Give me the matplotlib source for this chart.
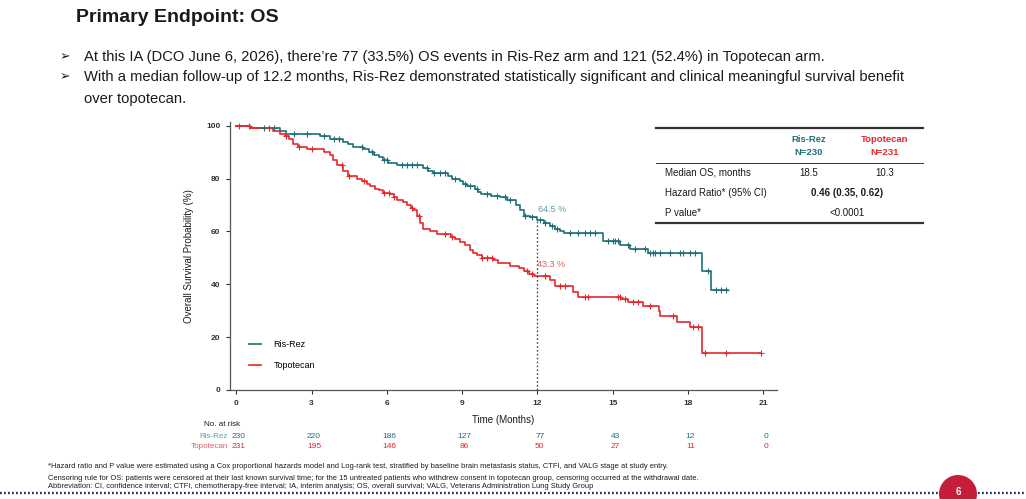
import numpy as np
import matplotlib
matplotlib.use("Agg")
import matplotlib.pyplot as plt
import matplotlib.transforms as mtransforms
from matplotlib.patches import Ellipse

plt.rcParams['font.family'] = ['Liberation Sans', 'DejaVu Sans']

# Kaplan-Meier step data (time in months, survival %)
risrez_t = [0, 0.55, 1.75, 2.0, 3.35, 3.75, 4.27, 4.45, 4.65, 5.05, 5.3, 5.5, 5.7, 5.85,
            6.05, 6.4, 7.45, 7.65, 7.85, 8.45, 8.6, 8.9, 9.05, 9.2, 9.5, 9.65, 9.75, 10.15,
            10.5, 10.8, 11.15, 11.3, 11.45, 11.7, 12.0, 12.25, 12.5, 12.7, 12.9, 13.05,
            14.6, 15.3, 15.7, 16.4, 18.55, 18.9, 19.6]
risrez_s = [100, 99, 98, 97, 96, 95, 94, 93, 92, 91, 90, 89, 88, 87,
            86, 85.2, 84, 83, 82, 81, 80, 79, 78, 77, 76, 75, 74, 73.5,
            73, 72, 70, 68, 66, 65.5, 64.5, 63, 62, 61, 60, 59.3,
            56.3, 55, 53.2, 51.7, 45, 37.8, 37.8]
risrez_cens = [1.1, 1.5, 2.3, 2.8, 3.5, 3.9, 4.1, 5.0, 5.4, 5.9, 6.0, 6.6, 6.8, 7.0, 7.2,
               7.6, 7.9, 8.1, 8.3, 8.7, 9.1, 9.3, 9.6, 10.0, 10.4, 10.7, 10.9, 11.5, 11.8,
               12.1, 12.3, 12.6, 12.8, 13.3, 13.6, 13.9, 14.1, 14.3, 14.8, 15.0, 15.1, 15.2,
               15.6, 15.9, 16.3, 16.5, 16.6, 16.7, 16.9, 17.3, 17.7, 17.8, 18.1, 18.3,
               18.8, 19.1, 19.3, 19.5]

topo_t = [0, 0.55, 1.45, 1.75, 1.95, 2.1, 2.27, 2.47, 2.8, 3.5, 3.73, 3.85, 4.0, 4.27,
          4.47, 4.8, 5.0, 5.2, 5.33, 5.53, 5.7, 5.86, 6.13, 6.3, 6.4, 6.66, 6.8, 6.95,
          7.05, 7.2, 7.33, 7.46, 7.72, 7.99, 8.55, 8.72, 8.92, 9.1, 9.3, 9.45, 9.58,
          9.78, 10.25, 10.45, 10.9, 11.25, 11.45, 11.65, 11.85, 12.5, 12.7, 13.4, 13.6,
          15.35, 15.6, 16.2, 16.83, 16.9, 17.56, 18.1, 18.55, 20.9]
topo_s = [100, 99, 98, 97, 96, 95, 93, 92, 91, 90, 89, 87, 85, 83,
          81, 80, 79, 78, 77, 76, 75.5, 74.5, 74, 73, 72, 71, 70, 69,
          68, 66, 63, 61, 60, 59, 58, 57, 56, 55, 53, 52, 51,
          50, 49, 48, 47, 46, 45, 44, 43.3, 41.6, 39.3, 37.2, 35.3,
          34.3, 33.4, 31.8, 29.9, 28, 25.8, 24, 13.9, 13.9]
topo_cens = [0.1, 0.5, 1.3, 2.0, 2.5, 3.0, 4.2, 4.5, 5.1, 5.9, 6.1, 6.3, 7.0, 7.3, 8.3,
             8.6, 9.8, 10.0, 10.2, 11.6, 11.8, 12.3, 12.9, 13.1, 13.9, 14.0, 15.2, 15.3,
             15.5, 15.8, 16.0, 16.5, 17.4, 18.2, 18.4, 18.7, 19.5, 20.9]

arms = ['Ris-Rez', 'Topotecan']
arm_n = ['N=230', 'N=231']
median_os = ['18.5', '10.3']
hr_text = '0.46 (0.35, 0.62)'
p_text = '<0.0001'
landmark = 12
landmark_vals = [64.5, 43.3]

risk_times = [0, 3, 6, 9, 12, 15, 18, 21]
risk_risrez = [230, 220, 186, 127, 77, 43, 12, 0]
risk_topo = [231, 195, 146, 86, 50, 27, 11, 0]

TEAL = '#1E6F78'
RED = '#E8272C'
TEAL_L = '#5D9EA6'
RED_L = '#E8595D'
DARK = '#1A1A1A'

W, H = 1026, 499
fig = plt.figure(figsize=(W / 100, H / 100), dpi=100)


def fx(x):
    return x / W


def fy(y):
    return 1 - y / H


def surv_at(t_arr, s_arr, t):
    idx = np.searchsorted(t_arr, t, side='right') - 1
    return np.asarray(s_arr)[idx]


# Header text
fig.text(fx(76), fy(18), 'Primary Endpoint: OS', fontsize=14, fontweight='bold',
         color=DARK, va='center', ha='left')
bullets = [
    (57, 'At this IA (DCO June 6, 2026), there\u2019re 77 (33.5%) OS events in Ris-Rez arm and 121 (52.4%) in Topotecan arm.'),
    (77, 'With a median follow-up of 12.2 months, Ris-Rez demonstrated statistically significant and clinical meaningful survival benefit'),
]
for yy, txt in bullets:
    fig.text(fx(60), fy(yy), '\u27a2', fontsize=9, color=DARK, va='center', ha='left',
             family=['DejaVu Sans'])
    fig.text(fx(84), fy(yy), txt, fontsize=10.6, color=DARK, va='center', ha='left')
fig.text(fx(84), fy(99), 'over topotecan.', fontsize=10.6, color=DARK, va='center', ha='left')

# KM plot
ax = fig.add_axes([fx(230), fy(390), fx(777) - fx(230), fy(121.7) - fy(390)])
ax.step(risrez_t, risrez_s, where='post', color=TEAL, lw=1.2, label=arms[0])
ax.step(topo_t, topo_s, where='post', color=RED, lw=1.2, label=arms[1])
ax.plot(risrez_cens, surv_at(risrez_t, risrez_s, risrez_cens), '+', color=TEAL, ms=4, mew=0.8)
ax.plot(topo_cens, surv_at(topo_t, topo_s, topo_cens), '+', color=RED, ms=4, mew=0.8)
ax.vlines(landmark, 0, landmark_vals[0], colors='#444444', linestyles=(0, (1.2, 1.6)), lw=1.0)
ax.text(landmark + 0.03, landmark_vals[0] + 3.9, f'{landmark_vals[0]} %', color=TEAL_L,
        fontsize=6.5, va='center', ha='left')
ax.text(landmark - 0.02, landmark_vals[1] + 4.0, f'{landmark_vals[1]} %', color=RED_L,
        fontsize=6.5, va='center', ha='left')

ax.set_xlim(-0.25, 21.55)
ax.set_ylim(0, 101.5)
ax.set_xticks(risk_times)
ax.set_yticks([0, 20, 40, 60, 80, 100])
ax.tick_params(labelsize=6, colors='#333333', length=3, width=0.8, pad=4)
for lab in ax.get_xticklabels() + ax.get_yticklabels():
    lab.set_fontweight('bold')
for sp in ['top', 'right']:
    ax.spines[sp].set_visible(False)
for sp in ['left', 'bottom']:
    ax.spines[sp].set_color('#555555')
    ax.spines[sp].set_linewidth(0.9)
ax.set_xlabel('Time (Months)', fontsize=7, color=DARK, labelpad=6)
ax.set_ylabel('Overall Survival Probability (%)', fontsize=7, color=DARK, labelpad=9)
ax.legend(loc='lower left', bbox_to_anchor=(0.02, 0.045), frameon=False, fontsize=6.5,
          handlelength=1.3, labelspacing=1.3, handletextpad=1.4)

# Number at risk
trans = mtransforms.blended_transform_factory(ax.transData, fig.transFigure)
fig.text(fx(204), fy(425), 'No. at risk', fontsize=5.8, color=DARK, va='center', ha='left')
fig.text(fx(228), fy(437), arms[0], fontsize=5.8, color=TEAL_L, va='center', ha='right')
fig.text(fx(228), fy(446), arms[1], fontsize=5.8, color=RED_L, va='center', ha='right')
for t, a, b in zip(risk_times, risk_risrez, risk_topo):
    ax.text(t + 0.1, fy(437), str(a), transform=trans, fontsize=6, color=TEAL,
            va='center', ha='center', clip_on=False)
    ax.text(t + 0.1, fy(446), str(b), transform=trans, fontsize=6, color=RED,
            va='center', ha='center', clip_on=False)

# Summary table
tl, tr = fx(656), fx(923)
fig.add_artist(plt.Line2D([tl, tr], [fy(128.3), fy(128.3)], color='#333333', lw=1.6))
fig.add_artist(plt.Line2D([tl, tr], [fy(162.7), fy(162.7)], color='#333333', lw=0.7))
fig.add_artist(plt.Line2D([tl, tr], [fy(223.3), fy(223.3)], color='#333333', lw=1.6))
col_x = [fx(809), fx(885)]
col_c = [TEAL, RED]
for cx, name, n, col, med in zip(col_x, arms, arm_n, col_c, median_os):
    fig.text(cx, fy(139), name, fontsize=6.8, fontweight='bold', color=col, ha='center', va='center')
    fig.text(cx, fy(152), n, fontsize=6.8, fontweight='bold', color=col, ha='center', va='center')
    fig.text(cx, fy(172.5), med, fontsize=7, color=DARK, ha='center', va='center')
fig.text(fx(665), fy(172.5), 'Median OS, months', fontsize=7, color=DARK, ha='left', va='center')
fig.text(fx(665), fy(192.7), 'Hazard Ratio* (95% CI)', fontsize=7, color=DARK, ha='left', va='center')
fig.text(fx(665), fy(212.7), 'P value*', fontsize=7, color=DARK, ha='left', va='center')
fig.text(fx(847), fy(192.7), hr_text, fontsize=7, fontweight='bold', color=DARK, ha='center', va='center')
fig.text(fx(847), fy(212.7), p_text, fontsize=7, color=DARK, ha='center', va='center')

# Footnotes
notes = [
    (467, '*Hazard ratio and P value were estimated using a Cox proportional hazards model and Log-rank test, stratified by baseline brain metastasis status, CTFI, and VALG stage at study entry.'),
    (478, 'Censoring rule for OS: patients were censored at their last known survival time; for the 15 untreated patients who withdrew consent in topotecan group, censoring occurred at the withdrawal date.'),
    (487, 'Abbreviation: CI, confidence interval; CTFI, chemotherapy-free interval; IA, interim analysis; OS, overall survival; VALG, Veterans Administration Lung Study Group'),
]
for yy, txt in notes:
    fig.text(fx(48), fy(yy), txt, fontsize=5.4, color=DARK, ha='left', va='center')

# Slide footer: dotted rule and page badge
fig.add_artist(plt.Line2D([0, fx(938)], [fy(493), fy(493)], color='#1F2D5C', lw=1.6,
                          linestyle=(0, (0.8, 1.0))))
fig.add_artist(plt.Line2D([fx(978), 1], [fy(493), fy(493)], color='#1F2D5C', lw=1.6,
                          linestyle=(0, (0.8, 1.0))))
fig.add_artist(Ellipse((fx(958), fy(494)), 38 / W, 38 / H, transform=fig.transFigure,
                       facecolor='#C41E3A', edgecolor='none'))
fig.text(fx(958), fy(492), '6', fontsize=7, fontweight='bold', color='white', ha='center', va='center')

fig.savefig('out.png', dpi=100)
